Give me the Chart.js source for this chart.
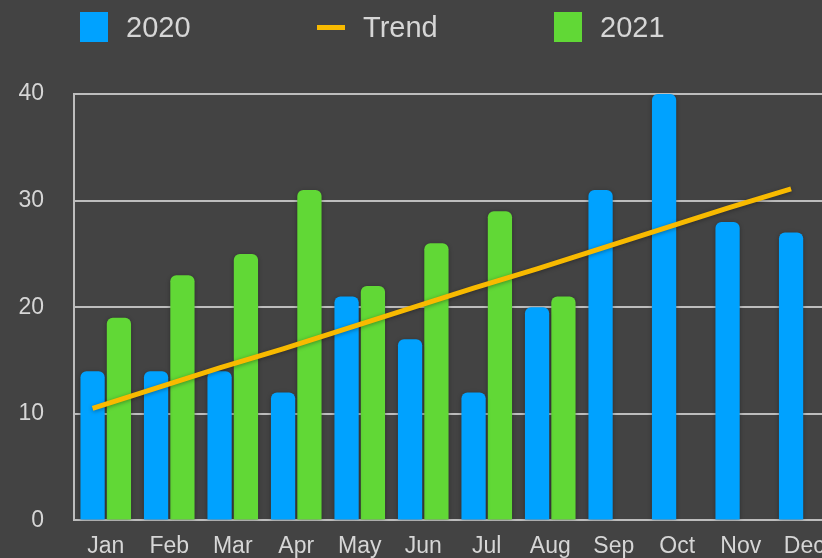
<!DOCTYPE html>
<html>
<head>
<meta charset="utf-8">
<script src="https://cdn.jsdelivr.net/npm/chart.js@4.4.1/dist/chart.umd.min.js"></script>
<style>
  html, body {
    margin: 0;
    padding: 0;
    background: #434343;
    width: 822px;
    height: 558px;
    overflow: hidden;
    font-family: "Liberation Sans", Arial, sans-serif;
  }
  #wrap {
    position: relative;
    width: 822px;
    height: 558px;
    overflow: hidden;
  }
  #chart {
    position: absolute;
    left: 0;
    top: 0;
  }
  #legend {
    position: absolute;
    left: 80px;
    top: 12px;
    display: flex;
  }
  .item {
    width: 237px;
    height: 30px;
    display: flex;
    align-items: center;
    color: #d6d6d6;
    font-size: 29px;
  }
  .swatch {
    width: 28px;
    margin-right: 18px;
  }
</style>
</head>
<body>
<div id="wrap">
  <canvas id="chart" width="850" height="572"></canvas>
  <div id="legend"></div>
</div>
<script>
// Chart data
const months = ['Jan', 'Feb', 'Mar', 'Apr', 'May', 'Jun', 'Jul', 'Aug', 'Sep', 'Oct', 'Nov', 'Dec'];
const sales2020 = [14, 14, 14, 12, 21, 17, 12, 20, 31, 40, 28, 27];
const sales2021 = [19, 23, 25, 31, 22, 26, 29, 21, null, null, null, null];
const trend = [10.5, 12.4, 14.3, 16.1, 18.0, 19.9, 21.8, 23.6, 25.5, 27.4, 29.3, 31.1];
const yTicks = [0, 10, 20, 30, 40];

const BLUE = '#00a2ff';
const GREEN = '#61d836';
const YELLOW = '#f8ba00';
const GRID = '#bdbdbd';
const TEXT = '#d6d6d6';
const CAT_PCT = 0.83;

// month index on a linear x axis, so the trend can sit on the 2020 bars
const toPoints = arr => arr.map((v, i) => ({ x: i, y: v }));
const trendShift = CAT_PCT / 4;
const trendPoints = trend.map((v, i) => ({ x: i - trendShift, y: v }));

const shadow = {
  id: 'shadow',
  beforeDatasetsDraw(chart) {
    const ctx = chart.ctx;
    ctx.save();
    ctx.shadowColor = 'rgba(0, 0, 0, 0.35)';
    ctx.shadowBlur = 4;
    ctx.shadowOffsetY = 1;
  },
  afterDatasetsDraw(chart) {
    chart.ctx.restore();
  }
};

const chart = new Chart(document.getElementById('chart').getContext('2d'), {
  type: 'bar',
  data: {
    datasets: [
      {
        label: '2020',
        data: toPoints(sales2020),
        backgroundColor: BLUE,
        borderRadius: { topLeft: 6, topRight: 6 },
        borderSkipped: 'bottom',
        categoryPercentage: CAT_PCT,
        barPercentage: 0.92,
        order: 1
      },
      {
        type: 'line',
        label: 'Trend',
        data: trendPoints,
        borderColor: YELLOW,
        borderWidth: 5,
        pointRadius: 0,
        fill: false,
        tension: 0,
        order: 0
      },
      {
        label: '2021',
        data: toPoints(sales2021),
        backgroundColor: GREEN,
        borderRadius: { topLeft: 6, topRight: 6 },
        borderSkipped: 'bottom',
        categoryPercentage: CAT_PCT,
        barPercentage: 0.92,
        order: 1
      }
    ]
  },
  options: {
    responsive: false,
    animation: false,
    layout: { padding: { top: 94, left: 0, right: 14, bottom: 0 } },
    plugins: {
      legend: { display: false },
      tooltip: { enabled: false }
    },
    scales: {
      x: {
        type: 'linear',
        offset: false,
        min: -0.5,
        max: months.length - 0.5,
        afterBuildTicks(scale) {
          scale.ticks = months.map((m, i) => ({ value: i }));
        },
        grid: { display: false, drawTicks: false },
        border: { display: true, color: GRID, width: 2 },
        ticks: {
          color: TEXT,
          font: { family: 'Liberation Sans', size: 23 },
          padding: 12,
          autoSkip: false,
          maxRotation: 0,
          callback: v => months[v]
        }
      },
      y: {
        min: yTicks[0],
        max: yTicks[yTicks.length - 1],
        afterBuildTicks(scale) {
          scale.ticks = yTicks.map(v => ({ value: v }));
        },
        afterFit(scale) {
          scale.width = 74;
        },
        grid: { color: GRID, lineWidth: 2, drawTicks: false },
        border: { display: true, color: GRID, width: 2 },
        ticks: {
          color: TEXT,
          font: { family: 'Liberation Sans', size: 23 },
          padding: 30
        }
      }
    }
  },
  plugins: [shadow]
});

// HTML legend built from the datasets
const legend = document.getElementById('legend');
chart.data.datasets.forEach(ds => {
  const item = document.createElement('div');
  item.className = 'item';
  const sw = document.createElement('span');
  sw.className = 'swatch';
  if (ds.type === 'line') {
    sw.style.height = '5px';
    sw.style.background = ds.borderColor;
  } else {
    sw.style.height = '30px';
    sw.style.background = ds.backgroundColor;
  }
  const txt = document.createElement('span');
  txt.textContent = ds.label;
  item.appendChild(sw);
  item.appendChild(txt);
  legend.appendChild(item);
});
</script>
</body>
</html>
